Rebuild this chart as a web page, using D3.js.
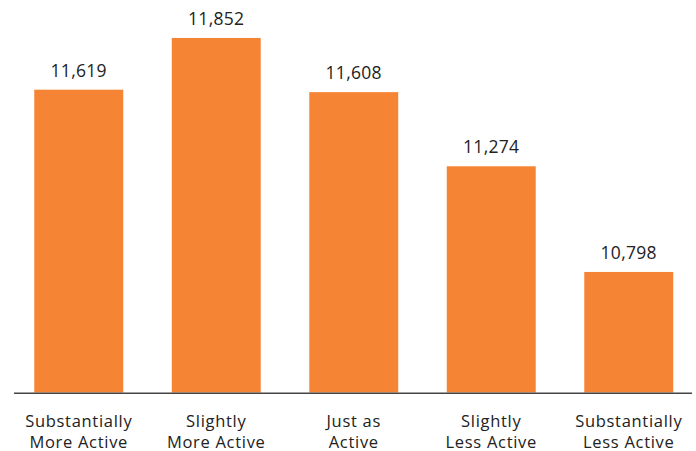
<!DOCTYPE html>
<html lang="en">
<head>
    <meta charset="UTF-8">
    <title>Activity Bars</title>
    <script src="https://d3js.org/d3.v7.min.js"></script>
    <style>
        body { margin: 0; background: #fff; font-family: "Open Sans", sans-serif; overflow: hidden; }
        .value { font-size: 17.5px; fill: #222; letter-spacing: 0.3px; }
        .cat { font-size: 16.5px; fill: #222; letter-spacing: 0.7px; }
    </style>
</head>
<body>
    <div id="chart"></div>
    <script>
        const width = 696, height = 451;

        // data
        const categories = [
            ["Substantially", "More Active"],
            ["Slightly", "More Active"],
            ["Just as", "Active"],
            ["Slightly", "Less Active"],
            ["Substantially", "Less Active"]
        ];
        const values = [11619, 11852, 11608, 11274, 10798];

        const svg = d3.select("#chart").append("svg")
            .attr("width", width)
            .attr("height", height);

        const keys = categories.map(c => c.join(" "));

        const xScale = d3.scaleBand()
            .domain(keys)
            .range([10, 697.5])
            .paddingInner(0.353)
            .paddingOuter(0.1765);

        const baseY = 392.5;
        const yScale = d3.scaleLinear()
            .domain([10255, 12000])
            .range([baseY, 5.1]);

        // bars
        svg.selectAll(".bar")
            .data(values)
            .enter().append("rect")
            .attr("class", "bar")
            .attr("x", (d, i) => xScale(keys[i]))
            .attr("width", xScale.bandwidth())
            .attr("y", d => yScale(d))
            .attr("height", d => baseY - yScale(d))
            .attr("fill", "#F58535");

        // value labels
        svg.selectAll(".value")
            .data(values)
            .enter().append("text")
            .attr("class", "value")
            .attr("x", (d, i) => xScale(keys[i]) + xScale.bandwidth() / 2)
            .attr("y", d => yScale(d) - 13)
            .attr("text-anchor", "middle")
            .text(d => d3.format(",")(d));

        // baseline axis
        const axis = svg.append("g")
            .attr("transform", `translate(0, ${baseY + 0.8})`)
            .call(d3.axisBottom(xScale).tickSize(0).tickFormat(""));
        axis.select(".domain")
            .attr("d", "M14,0H692")
            .attr("stroke", "#444")
            .attr("stroke-width", 1.6);

        // category labels (two lines)
        const cat = svg.selectAll(".cat")
            .data(categories)
            .enter().append("text")
            .attr("class", "cat")
            .attr("text-anchor", "middle")
            .attr("x", (d, i) => xScale(keys[i]) + xScale.bandwidth() / 2);
        cat.append("tspan")
            .attr("x", (d, i) => xScale(keys[i]) + xScale.bandwidth() / 2)
            .attr("y", 427)
            .text(d => d[0]);
        cat.append("tspan")
            .attr("x", (d, i) => xScale(keys[i]) + xScale.bandwidth() / 2)
            .attr("y", 447.5)
            .text(d => d[1]);
    </script>
</body>
</html>
